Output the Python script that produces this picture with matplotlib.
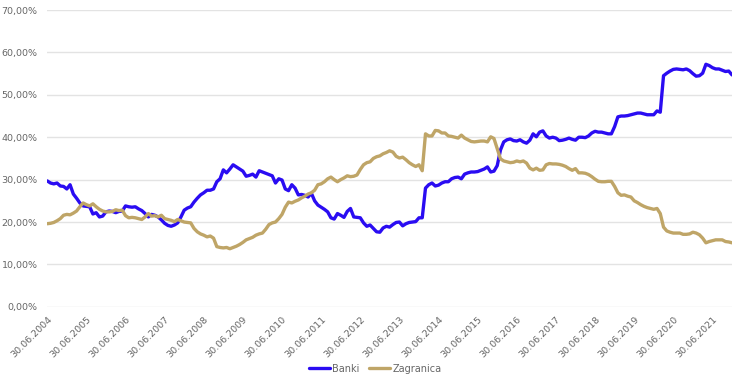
import numpy as np
import pandas as pd
import matplotlib
matplotlib.use("Agg")
import matplotlib.pyplot as plt
from matplotlib.ticker import FuncFormatter

# Monthly data, 30.06.2004 - 31.12.2021 (values in %)
dates = pd.date_range("2004-06-30", periods=211, freq="ME")

banki = [
    29.7, 29.2, 29.0, 29.2, 28.5, 28.4, 27.8, 28.8, 26.6, 25.6, 24.5, 23.8,
    23.7, 23.6, 21.9, 22.2, 21.2, 21.4, 22.4, 22.6, 22.5, 22.2, 22.5, 22.6,
    23.8, 23.6, 23.5, 23.6, 23.1, 22.7, 22.0, 21.2, 21.8, 21.6, 21.2, 20.5,
    19.7, 19.2, 19.0, 19.3, 19.8, 21.2, 22.8, 23.3, 23.6, 24.7, 25.6, 26.4,
    26.9, 27.5, 27.5, 27.8, 29.5, 30.2, 32.3, 31.6, 32.5, 33.5, 33.0, 32.5,
    32.0, 30.8, 31.0, 31.3, 30.6, 32.1, 31.8, 31.5, 31.2, 30.9, 29.2, 30.2,
    29.9, 27.8, 27.4, 28.8, 28.0, 26.4, 26.5, 26.3, 25.9, 26.8, 25.0, 24.0,
    23.5, 23.0, 22.4, 21.0, 20.7, 22.0, 21.6, 21.1, 22.5, 23.2, 21.2, 21.1,
    21.0, 19.8, 19.0, 19.3, 18.5, 17.7, 17.6, 18.6, 19.0, 18.8, 19.4, 19.9,
    20.0, 19.1, 19.6, 19.9, 20.0, 20.1, 21.0, 21.0, 28.0, 28.8, 29.2, 28.5,
    28.7, 29.2, 29.5, 29.5, 30.2, 30.5, 30.6, 30.2, 31.3, 31.6, 31.8, 31.8,
    31.9, 32.2, 32.5, 33.0, 31.8, 32.0, 33.3, 37.0, 38.9, 39.4, 39.6, 39.2,
    39.1, 39.4, 38.9, 38.6, 39.3, 40.8, 40.1, 41.2, 41.5, 40.3, 39.8, 40.0,
    39.8, 39.2, 39.3, 39.5, 39.8, 39.5, 39.3, 40.0, 40.0, 39.9, 40.3, 41.0,
    41.4, 41.2, 41.2, 41.0, 40.8, 40.8, 42.5, 44.8, 45.0, 45.0, 45.1, 45.3,
    45.5, 45.7, 45.7, 45.5, 45.3, 45.3, 45.3, 46.2, 45.9, 54.5, 55.1, 55.6,
    56.0, 56.1, 56.0, 55.9, 56.1, 55.7, 55.0, 54.4, 54.5, 55.1, 57.2, 56.9,
    56.4, 56.1, 56.1, 55.8, 55.5, 55.6, 54.7,
]

zagranica = [
    19.6, 19.7, 19.9, 20.3, 20.8, 21.6, 21.8, 21.7, 22.1, 22.6, 23.6, 24.5,
    24.1, 23.8, 24.3, 23.6, 23.0, 22.6, 22.4, 22.4, 22.5, 22.9, 22.7, 22.8,
    21.5, 21.0, 21.1, 21.0, 20.8, 20.6, 21.2, 22.0, 21.4, 21.5, 21.2, 21.6,
    20.8, 20.6, 20.4, 20.1, 20.6, 20.3, 20.0, 19.9, 19.8, 18.5, 17.7, 17.2,
    16.9, 16.5, 16.7, 16.2, 14.2, 14.0, 13.9, 14.0, 13.7, 14.0, 14.3, 14.7,
    15.2, 15.8, 16.1, 16.4, 16.9, 17.2, 17.4, 18.3, 19.4, 19.8, 20.0, 20.8,
    21.8, 23.5, 24.7, 24.5, 24.9, 25.2, 25.7, 26.1, 26.6, 26.9, 27.5, 28.8,
    29.0, 29.5, 30.2, 30.6, 30.0, 29.5, 30.0, 30.4, 30.9, 30.7, 30.8, 31.1,
    32.4, 33.5, 34.0, 34.2, 35.0, 35.4, 35.6, 36.1, 36.4, 36.8, 36.5, 35.5,
    35.1, 35.3, 34.7, 34.0, 33.5, 33.1, 33.5, 32.1, 40.8, 40.3, 40.3, 41.6,
    41.5, 41.0, 41.0, 40.3, 40.2, 40.0, 39.8, 40.5, 39.8, 39.4, 39.0, 38.9,
    39.0, 39.1, 39.1, 38.9, 40.1, 39.7, 37.3, 34.9, 34.4, 34.2, 34.0, 34.1,
    34.4, 34.2, 34.4, 33.9, 32.7, 32.3, 32.7, 32.2, 32.3, 33.5, 33.8, 33.7,
    33.7, 33.6, 33.4, 33.1, 32.6, 32.2, 32.6, 31.6, 31.6, 31.5, 31.2, 30.7,
    30.1, 29.6, 29.5, 29.5, 29.6, 29.6, 28.4, 26.9, 26.3, 26.4, 26.1, 25.9,
    25.0, 24.6, 24.1, 23.7, 23.4, 23.2, 23.0, 23.2, 22.0, 18.8, 17.9, 17.6,
    17.4, 17.4, 17.4, 17.1, 17.1, 17.2, 17.6, 17.4, 17.0, 16.2, 15.1, 15.4,
    15.6, 15.8, 15.8, 15.8, 15.4, 15.3, 15.1,
]

text_color = "#666666"
plt.rcParams["font.family"] = ["DejaVu Sans"]

fig = plt.figure(figsize=(7.5, 3.85), dpi=100)
ax = fig.add_axes([0.063, 0.203, 0.913, 0.771])

x = np.arange(len(dates))
ax.plot(x, banki, color="#2a0cf2", linewidth=2.4, label="Banki", solid_capstyle="round")
ax.plot(x, zagranica, color="#bfa567", linewidth=2.4, label="Zagranica", solid_capstyle="round")

ax.set_xlim(0, len(dates) - 1)
ax.set_ylim(0, 70)
ax.set_yticks(np.arange(0, 71, 10))
ax.yaxis.set_major_formatter(FuncFormatter(lambda v, p: f"{v:.2f}%".replace(".", ",")))
ax.grid(axis="y", color="#e3e3e3", linewidth=1)
ax.set_axisbelow(True)

# one label per year, at the June month-end
tick_pos = [i for i, d in enumerate(dates) if d.month == 6]
ax.set_xticks(tick_pos)
ax.set_xticklabels([dates[i].strftime("30.06.%Y") for i in tick_pos],
                   rotation=45, ha="right", rotation_mode="anchor")

for s in ax.spines.values():
    s.set_visible(False)
ax.tick_params(axis="both", length=0, labelsize=6.8, colors=text_color)
ax.tick_params(axis="y", pad=7)
ax.tick_params(axis="x", pad=6)

fig.legend(loc="center", bbox_to_anchor=(0.5, 0.042), ncol=2, frameon=False,
           fontsize=7, labelcolor=text_color, handlelength=2.2, handletextpad=0.2,
           columnspacing=1.0)

fig.savefig("out.png", dpi=100)
